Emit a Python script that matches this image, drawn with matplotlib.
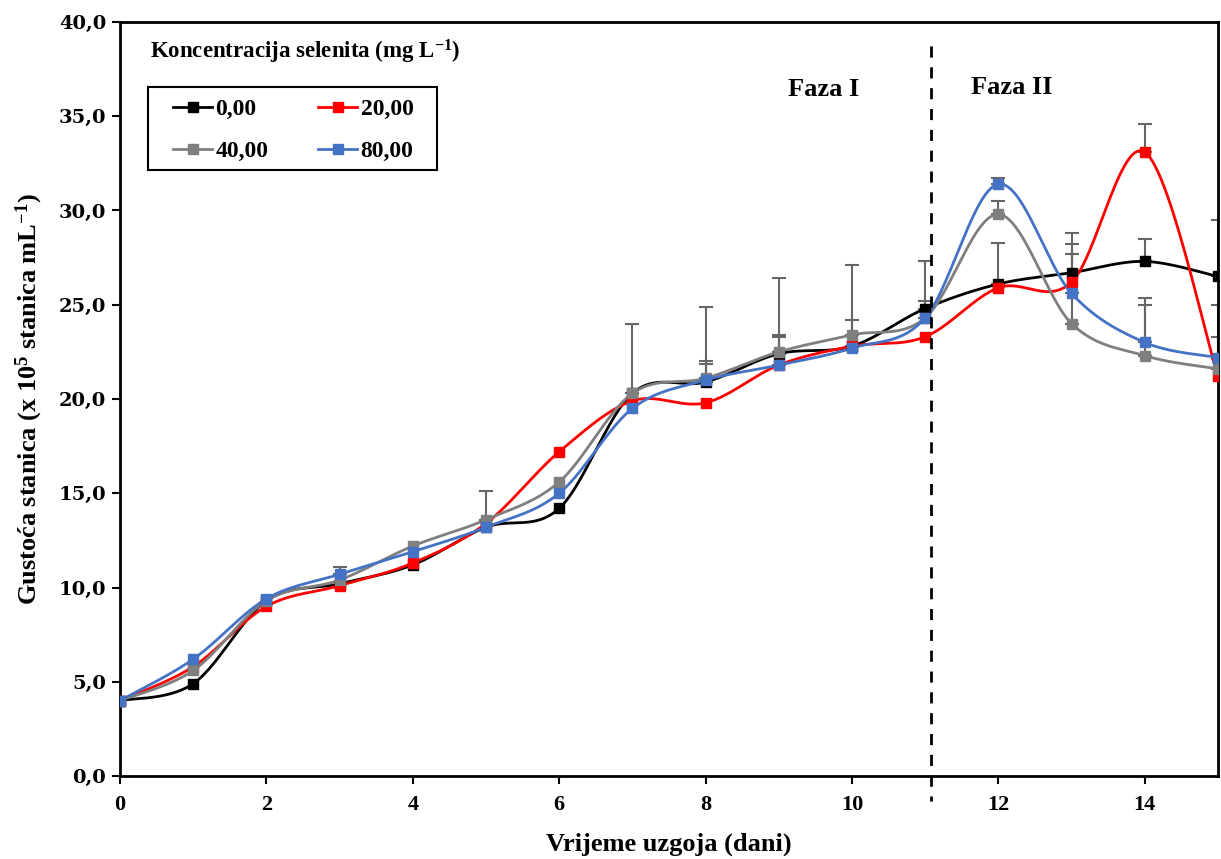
import matplotlib
matplotlib.use("Agg")
import matplotlib.pyplot as plt
from matplotlib.patches import Rectangle
import numpy as np

days = np.arange(16)

conc_labels = ["0,00", "20,00", "40,00", "80,00"]
colors = ["#000000", "#ff0000", "#7f7f7f", "#4472c4"]

c0 = [4.0, 4.9, 9.3, 10.2, 11.2, 13.2, 14.2, 20.3, 20.9, 22.4, 22.8, 24.8, 26.1, 26.7, 27.3, 26.5]
c20 = [4.0, 5.8, 9.0, 10.1, 11.3, 13.4, 17.2, 19.9, 19.8, 21.8, 22.8, 23.3, 25.9, 26.2, 33.1, 21.2]
c40 = [4.0, 5.6, 9.3, 10.4, 12.2, 13.6, 15.6, 20.3, 21.1, 22.5, 23.4, 24.3, 29.8, 24.0, 22.3, 21.6]
c80 = [4.0, 6.2, 9.4, 10.7, 11.9, 13.2, 15.0, 19.5, 21.0, 21.8, 22.7, 24.3, 31.4, 25.6, 23.0, 22.2]

# upper standard deviations (only the upper half is shown)
e0 = [0, 0, 0, 0, 0, 0, 0, 0, 1.1, 1.0, 1.4, 0.4, 2.2, 1.0, 1.2, 3.0]
e20 = [0, 0, 0, 0, 0, 0, 0, 0, 0, 0, 0, 0, 0, 0, 1.5, 0]
e40 = [0, 0, 0, 0, 0, 1.5, 0, 3.7, 3.8, 3.9, 3.7, 3.0, 0.7, 4.8, 2.7, 1.7]
e80 = [0, 0, 0, 0.4, 0, 0, 0, 0, 0.85, 1.5, 0, 0, 0.3, 2.6, 2.35, 2.8]

series = [c0, c20, c40, c80]
errors = [e0, e20, e40, e80]

phase_split = 11.08


def smooth(x, y, n=30):
    # Excel-style smoothed line (Bezier with Catmull-Rom control points)
    x = np.asarray(x, float)
    y = np.asarray(y, float)
    p = np.column_stack([x, y])
    out = []
    t = np.linspace(0, 1, n)[:, None]
    for i in range(len(p) - 1):
        p0 = p[i - 1] if i > 0 else p[i]
        p1 = p[i]
        p2 = p[i + 1]
        p3 = p[i + 2] if i + 2 < len(p) else p[i + 1]
        b1 = p1 + (p2 - p0) / 6
        b2 = p2 - (p3 - p1) / 6
        seg = ((1 - t) ** 3) * p1 + 3 * ((1 - t) ** 2) * t * b1 + 3 * (1 - t) * t ** 2 * b2 + t ** 3 * p2
        out.append(seg)
    out = np.vstack(out)
    return out[:, 0], out[:, 1]


plt.rcParams["font.family"] = ["Liberation Serif", "DejaVu Serif"]
plt.rcParams["font.weight"] = "bold"
plt.rcParams["mathtext.fontset"] = "custom"
plt.rcParams["mathtext.rm"] = "Liberation Serif:bold"
plt.rcParams["mathtext.bf"] = "Liberation Serif:bold"
plt.rcParams["mathtext.it"] = "Liberation Serif:bold"

fig = plt.figure(figsize=(12.21, 8.59), dpi=100)
ax = fig.add_axes([0.0983, 0.0966, 0.8992, 0.8778])

handles = []
for vals, err, col, lab in zip(series, errors, colors, conc_labels):
    xs, ys = smooth(days, vals)
    ax.plot(xs, ys, color=col, lw=2.0, zorder=3)
    err = np.asarray(err)
    m = err > 0
    ax.errorbar(days[m], np.asarray(vals)[m], yerr=[np.zeros(m.sum()), err[m]],
                fmt="none", ecolor="#666666", elinewidth=1.5, capsize=5, capthick=1.5, zorder=2)
    ax.plot(days, vals, ls="none", marker="s", ms=7, color=col, zorder=4)
    h, = ax.plot([], [], color=col, lw=2.0, marker="s", ms=7)
    handles.append(h)

ax.plot([phase_split, phase_split], [38.7, -1.3], color="black", lw=2, ls=(0, (4, 3.5)),
        clip_on=False, zorder=5)

ax.set_xlim(0, 15)
ax.set_ylim(0, 40)
ax.set_xticks(np.arange(0, 16, 2))
ax.set_yticks(np.arange(0, 41, 5))
ax.set_yticklabels([f"{v:.1f}".replace(".", ",") for v in np.arange(0, 41, 5)],
                   fontfamily="DejaVu Serif", fontweight="bold", fontsize=14)
ax.tick_params(axis="x", labelsize=16, length=6, width=1.5, pad=8)
ax.tick_params(axis="y", length=6, width=1.5, pad=4)
for s in ax.spines.values():
    s.set_linewidth(2)

ax.set_xlabel("Vrijeme uzgoja (dani)", fontsize=19, fontweight="bold", labelpad=12)
ax.set_ylabel(r"Gustoća stanica (x 10$^{5}$ stanica mL$^{-1}$)", fontsize=19,
              fontweight="bold", labelpad=10)

ax.text(0.027, 0.960, r"Koncentracija selenita (mg L$^{-1}$)", transform=ax.transAxes,
        fontsize=16.5, fontweight="bold", va="center", ha="left")
# legend filled row by row like the original, box drawn separately
order = [0, 2, 1, 3]
leg = ax.legend([handles[i] for i in order], [conc_labels[i] for i in order], ncol=2,
                loc="upper left", bbox_to_anchor=(0.0483, 0.898),
                frameon=False, fontsize=17,
                handlelength=1.65, handletextpad=0.15, columnspacing=2.1, borderpad=0,
                labelspacing=0.85, borderaxespad=0)
leg.set_zorder(6)
ax.add_patch(Rectangle((0.0255, 0.8037), 0.2632, 0.1101, transform=ax.transAxes,
                       facecolor="white", edgecolor="black", lw=1.5, zorder=5.5))

ax.text(9.61, 36.4, "Faza I", fontsize=19, fontweight="bold", ha="center", va="center")
ax.text(12.18, 36.5, "Faza II", fontsize=19, fontweight="bold", ha="center", va="center")

fig.savefig("out.png", dpi=100)
